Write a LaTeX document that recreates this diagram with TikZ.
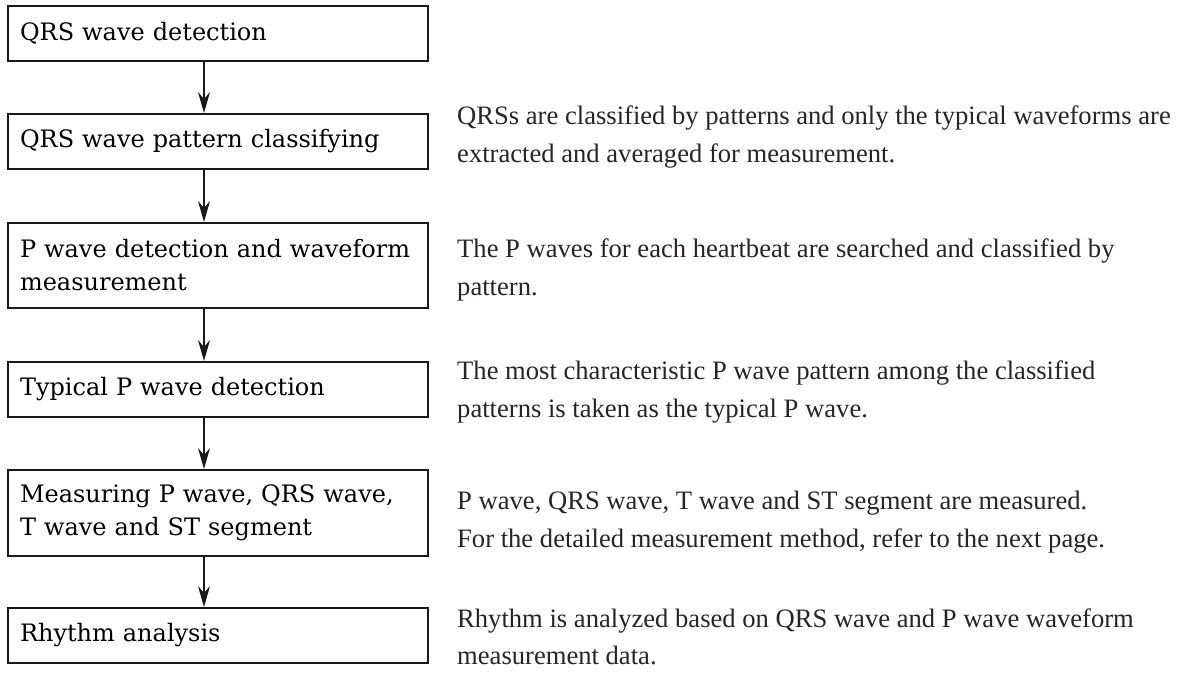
\documentclass[tikz,border=0pt]{standalone}
\usepackage{fontspec}
\setmainfont{Liberation Serif}
\newfontfamily\stepfont{DejaVu Serif}
\usetikzlibrary{arrows.meta,positioning}
\definecolor{ecgblack}{RGB}{25,25,25}
\definecolor{ecggray}{RGB}{40,36,37}

\begin{document}
\begin{tikzpicture}[x=1pt,y=-1pt,
    stepbox/.style={draw=ecgblack, line width=2pt, text width=396pt, inner xsep=12pt, inner ysep=0pt,
        align=left, font=\stepfont\fontsize{24}{33}\selectfont},
    note/.style={anchor=west, align=left, inner sep=0pt, text=ecggray, font=\fontsize{26.6}{37.5}\selectfont},
    flow/.style={-{Stealth[length=21pt,width=12pt,inset=7pt]}, line width=1.5pt, draw=ecgblack}]
    % Page frame
    \useasboundingbox (0,0) rectangle (1184,674);

    % Processing steps
    \node[stepbox, minimum height=55pt] (qrsdet) at (218,33.5) {QRS wave detection};
    \node[stepbox, minimum height=55pt] (qrscls) at (218,141.5) {QRS wave pattern classifying};
    \node[stepbox, minimum height=85pt] (pdet) at (218,265.5) {P wave detection and waveform\\measurement};
    \node[stepbox, minimum height=55pt] (ptyp) at (218,389.5) {Typical P wave detection};
    \node[stepbox, minimum height=86pt] (meas) at (218,513) {Measuring P wave, QRS wave,\\T wave and ST segment};
    \node[stepbox, minimum height=55pt] (rhythm) at (218,635.5) {Rhythm analysis};

    % Arrows between steps
    \foreach \from/\to in {qrsdet/qrscls, qrscls/pdet, pdet/ptyp, ptyp/meas, meas/rhythm}
        \draw[flow] ([xshift=-14pt]\from.south) -- ([xshift=-14pt]\to.north);

    % Explanations on the right
    \node[note] (qrsclsnote) at (457,137) {QRSs are classified by patterns and only the typical waveforms are\\extracted and averaged for measurement.};
    \node[note] (pdetnote) at (457,270) {The P waves for each heartbeat are searched and classified by\\pattern.};
    \node[note] (ptypnote) at (457,392) {The most characteristic P wave pattern among the classified\\patterns is taken as the typical P wave.};
    \node[note] (measnote) at (457,522) {P wave, QRS wave, T wave and ST segment are measured.\\For the detailed measurement method, refer to the next page.};
    \node[note] (rhythmnote) at (457,637) {Rhythm is analyzed based on QRS wave and P wave waveform\\measurement data.};
\end{tikzpicture}
\end{document}
